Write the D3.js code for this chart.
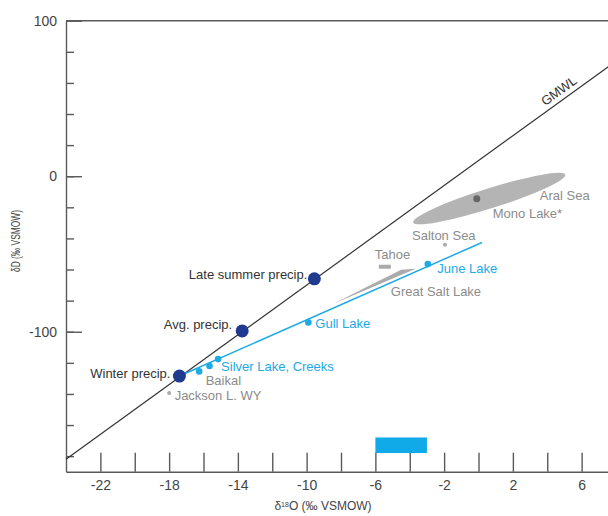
<!DOCTYPE html>
<meta charset="utf-8">
<title>Stable isotopes</title>
<style>
  body { margin: 0; background: #fff; }
  svg { display: block; font-family: "Liberation Sans", Arial, sans-serif; }
</style>
<div id="viz"></div>
<script src="https://cdnjs.cloudflare.com/ajax/libs/d3/7.8.5/d3.min.js"></script>
<script>

// d18O / dD values (per mil VSMOW)
var xDomain = [-24, 8];
var yDomain = [-190, 100];
var xTicks = d3.range(-22, 8, 2);
var xLabels = [-22, -18, -14, -10, -6, -2, 2, 6];
var yTicks = d3.range(-180, 100, 20);
var yLabels = [100, 0, -100];

// global meteoric water line: dD = 8 * d18O + 10
var gmwlX = [-24, 8];

var precip = [
  {name: "Winter precip.",      o: -17.4,  d: -128.5},
  {name: "Avg. precip.",        o: -13.75, d: -99.5},
  {name: "Late summer precip.", o: -9.55,  d: -66}
];

// local evaporation line
var evapLine = [[-17.4, -128.5], [0.2, -42.6]];

var bluePoints = [
  {name: "a",         o: -16.25, d: -125.5},
  {name: "b",         o: -15.65, d: -122},
  {name: "Silver",    o: -15.15, d: -117.6},
  {name: "Gull",      o: -9.9,   d: -94},
  {name: "June",      o: -2.95,  d: -56.5}
];

var grayPoints = [
  {name: "Jackson", o: -18.0,  d: -139.4},
  {name: "Salton",  o: -1.95,  d: -44.1}
];

var monoPoint = {name: "Mono", o: -0.1, d: -14.5};

// Aral Sea / Mono Lake field (long axis end points)
var aralField = [[-3.8, -29.7], [5.05, 1]];

// Great Salt Lake wedge
var gslField = [[-8.45, -82], [-4.5, -60.1], [-3.65, -59.5]];

// Tahoe range
var tahoeO = [-5.8, -5.1];
var tahoeD = -58.2;

// blue bar on the d18O axis
var barO = [-6, -3];
var barD = [-178, -168];

var width = 608;
var height = 516;

var x = d3.scaleLinear().domain(xDomain).range([66, 616]);
var y = d3.scaleLinear().domain(yDomain).range([471.7, 20.7]);

var svg = d3.select("#viz")
  .append("svg")
  .attr("width", width)
  .attr("height", height);

var blue = "#1eaae6";
var navy = "#1f3a8e";
var grayText = "#8c8c8c";
var axisCol = "#5a5a5a";

// axes
var xAxis = svg.append("g")
  .attr("transform", "translate(0," + y(yDomain[0]) + ")")
  .call(d3.axisBottom(x)
    .tickValues(xTicks)
    .tickSize(-19)
    .tickSizeOuter(0)
    .tickPadding(8)
    .tickFormat(function(d) { return xLabels.indexOf(d) >= 0 ? d : ""; }));

var yMinor = svg.append("g")
  .attr("transform", "translate(" + x(xDomain[0]) + ",0)")
  .call(d3.axisLeft(y)
    .tickValues(yTicks)
    .tickSize(-8)
    .tickSizeOuter(0)
    .tickFormat(""));

var yMajor = svg.append("g")
  .attr("transform", "translate(" + x(xDomain[0]) + ",0)")
  .call(d3.axisLeft(y)
    .tickValues(yLabels)
    .tickSize(-16)
    .tickSizeOuter(0)
    .tickPadding(9)
    .tickFormat(function(d) { return d; }));
yMajor.select(".domain").remove();

svg.selectAll(".domain, .tick line")
  .attr("stroke", axisCol)
  .attr("stroke-width", 1.4);
svg.selectAll(".tick text")
  .attr("fill", "#444")
  .style("font-size", "14px")
  .style("font-family", "'Liberation Sans', Arial, sans-serif");

// top frame line
svg.append("line")
  .attr("x1", x(xDomain[0])).attr("x2", x(xDomain[1]))
  .attr("y1", y(yDomain[1])).attr("y2", y(yDomain[1]))
  .attr("stroke", axisCol)
  .attr("stroke-width", 1.4);

// axis titles
var xt = svg.append("text")
  .attr("x", 323).attr("y", 510)
  .attr("text-anchor", "middle")
  .attr("fill", "#444")
  .style("font-size", "12px");
xt.append("tspan").text("\u03b4");
xt.append("tspan").attr("baseline-shift", "super").style("font-size", "7px").text("18");
xt.append("tspan").text("O (\u2030 VSMOW)");

svg.append("text")
  .attr("transform", "translate(20,241) rotate(-90)")
  .attr("text-anchor", "middle")
  .attr("fill", "#444")
  .attr("textLength", 62)
  .attr("lengthAdjust", "spacingAndGlyphs")
  .style("font-size", "12px")
  .text("\u03b4D (\u2030 VSMOW)");

// gray fields
var a0 = [x(aralField[0][0]), y(aralField[0][1])];
var a1 = [x(aralField[1][0]), y(aralField[1][1])];
var aLen = Math.hypot(a1[0] - a0[0], a1[1] - a0[1]);
var aAng = Math.atan2(a1[1] - a0[1], a1[0] - a0[0]) * 180 / Math.PI;
svg.append("ellipse")
  .attr("cx", 0).attr("cy", 0)
  .attr("rx", aLen / 2).attr("ry", 10)
  .attr("transform", "translate(" + (a0[0] + a1[0]) / 2 + "," + (a0[1] + a1[1]) / 2 + ") rotate(" + aAng + ")")
  .attr("fill", "#b4b4b4");

svg.append("path")
  .datum(gslField)
  .attr("d", d3.line().x(function(d) { return x(d[0]); }).y(function(d) { return y(d[1]); }).curve(d3.curveLinearClosed))
  .attr("fill", "#ababab");

svg.append("line")
  .attr("x1", x(tahoeO[0])).attr("x2", x(tahoeO[1]))
  .attr("y1", y(tahoeD)).attr("y2", y(tahoeD))
  .attr("stroke", "#aaa")
  .attr("stroke-width", 4);

svg.append("rect")
  .attr("x", x(barO[0]))
  .attr("y", y(barD[1]))
  .attr("width", x(barO[1]) - x(barO[0]))
  .attr("height", y(barD[0]) - y(barD[1]))
  .attr("fill", "#10aae8");

// GMWL
svg.append("line")
  .attr("x1", x(gmwlX[0])).attr("y1", y(8 * gmwlX[0] + 10))
  .attr("x2", x(gmwlX[1])).attr("y2", y(8 * gmwlX[1] + 10))
  .attr("stroke", "#333")
  .attr("stroke-width", 1.2);

var gAng = Math.atan2(y(8 * 1 + 10) - y(10), x(1) - x(0)) * 180 / Math.PI;
svg.append("text")
  .attr("transform", "translate(" + x(5.0) + "," + y(8 * 5.0 + 10) + ") rotate(" + gAng + ")")
  .attr("y", -5)
  .attr("text-anchor", "middle")
  .attr("fill", "#333")
  .style("font-size", "13px")
  .text("GMWL");

// evaporation line
svg.append("line")
  .attr("x1", x(evapLine[0][0])).attr("y1", y(evapLine[0][1]))
  .attr("x2", x(evapLine[1][0])).attr("y2", y(evapLine[1][1]))
  .attr("stroke", blue)
  .attr("stroke-width", 1.5);

svg.selectAll(".gray-pt")
  .data(grayPoints)
  .enter().append("circle")
  .attr("cx", function(d) { return x(d.o); })
  .attr("cy", function(d) { return y(d.d); })
  .attr("r", 2)
  .attr("fill", "#aaa");

svg.append("circle")
  .attr("cx", x(monoPoint.o))
  .attr("cy", y(monoPoint.d))
  .attr("r", 3.5)
  .attr("fill", "#666");

svg.selectAll(".blue-pt")
  .data(bluePoints)
  .enter().append("circle")
  .attr("cx", function(d) { return x(d.o); })
  .attr("cy", function(d) { return y(d.d); })
  .attr("r", 3.3)
  .attr("fill", blue);

svg.selectAll(".precip-pt")
  .data(precip)
  .enter().append("circle")
  .attr("cx", function(d) { return x(d.o); })
  .attr("cy", function(d) { return y(d.d); })
  .attr("r", 6.5)
  .attr("fill", navy);

// labels: point they belong to, offset in px
var allPts = {};
precip.concat(bluePoints, grayPoints, [monoPoint]).forEach(function(p) { allPts[p.name] = p; });
allPts["GSL"] = {o: gslField[2][0], d: gslField[2][1]};
allPts["Tahoe"] = {o: tahoeO[0], d: tahoeD};

var labels = [
  {t: "Winter precip.",      p: "Winter precip.",      dx: -9,  dy: -3,  a: "end",   c: "#333"},
  {t: "Avg. precip.",        p: "Avg. precip.",        dx: -10, dy: -7,  a: "end",   c: "#333"},
  {t: "Late summer precip.", p: "Late summer precip.", dx: -7,  dy: -4,  a: "end",   c: "#333"},
  {t: "Silver Lake, Creeks", p: "Silver",  dx: 3,   dy: 7,   a: "start", c: blue},
  {t: "Gull Lake",           p: "Gull",    dx: 7,   dy: 0.6, a: "start", c: blue},
  {t: "June Lake",           p: "June",    dx: 9.5, dy: 4,   a: "start", c: blue},
  {t: "Baikal",              p: "a",       dx: 6.5, dy: 9.5, a: "start", c: grayText},
  {t: "Jackson L. WY",       p: "Jackson", dx: 5.5, dy: 2.5, a: "start", c: grayText},
  {t: "Salton Sea",          p: "Salton",  dx: -33, dy: -9,  a: "start", c: grayText},
  {t: "Tahoe",               p: "Tahoe",   dx: -4,  dy: -12, a: "start", c: grayText},
  {t: "Great Salt Lake",     p: "GSL",     dx: -25, dy: 23,  a: "start", c: grayText},
  {t: "Aral Sea",            p: "Mono",    dx: 63,  dy: -3,  a: "start", c: grayText},
  {t: "Mono Lake*",          p: "Mono",    dx: 16,  dy: 15,  a: "start", c: grayText}
];

svg.selectAll(".lbl")
  .data(labels)
  .enter().append("text")
  .attr("x", function(d) { return x(allPts[d.p].o) + d.dx; })
  .attr("y", function(d) { return y(allPts[d.p].d) + d.dy; })
  .attr("dy", "0.35em")
  .attr("text-anchor", function(d) { return d.a; })
  .attr("fill", function(d) { return d.c; })
  .style("font-size", "13px")
  .text(function(d) { return d.t; });

</script>
